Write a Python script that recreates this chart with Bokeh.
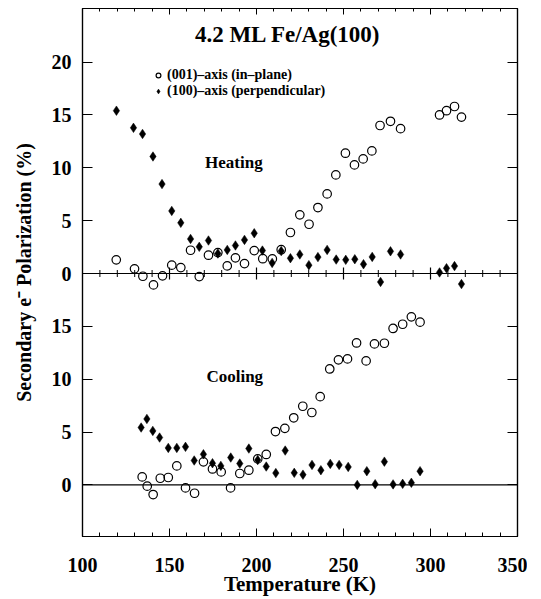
from bokeh.plotting import figure
from bokeh.models import Range1d, LinearAxis, FixedTicker, Span, Label, Legend, LegendItem
from bokeh.embed import file_html
from bokeh.resources import INLINE
import math

FONT = "Liberation Serif"

# ---------------- data ----------------
heat_inplane_T = [119.4, 129.9, 134.7, 140.8, 146.0, 151.3, 156.5, 162.1, 167.1, 172.4, 177.8,
                  183.2, 187.9, 193.1, 198.7, 203.6, 209.1, 214.2, 219.5, 224.9, 230.2, 235.3,
                  240.6, 245.6, 251.1, 256.3, 261.3, 266.3, 271.0, 277.0, 282.8, 305.2, 309.2,
                  313.8, 317.8]
heat_inplane_P = [1.29, 0.44, -0.26, -1.08, -0.22, 0.79, 0.56, 2.2, -0.29, 1.73, 1.98,
                  0.72, 1.48, 0.94, 2.17, 1.4, 1.38, 2.25, 3.88, 5.55, 4.66, 6.24,
                  7.53, 9.33, 11.38, 10.27, 10.84, 11.6, 14.0, 14.4, 13.7, 15.0, 15.4,
                  15.8, 14.8]

heat_perp_T = [119.5, 129.3, 134.5, 140.5, 145.7, 151.3, 156.5, 162.1, 167.1, 172.4, 177.8,
               183.2, 187.9, 193.1, 198.7, 203.4, 209.0, 214.2, 219.5, 224.9, 230.1, 235.3,
               240.6, 245.8, 251.3, 256.5, 261.5, 266.5, 271.3, 277.0, 282.8, 305.2, 309.2,
               313.8, 317.8]
heat_perp_P = [15.4, 13.78, 13.2, 11.07, 8.46, 5.92, 4.79, 3.27, 2.52, 3.12, 1.89,
               2.23, 2.65, 3.18, 3.81, 2.17, 1.0, 2.12, 1.45, 1.8, 0.79, 1.55,
               2.23, 1.32, 1.29, 1.35, 0.88, 1.57, -0.8, 2.1, 1.8, 0.1, 0.5,
               0.7, -1.0]

cool_inplane_T = [134.3, 137.2, 140.6, 144.7, 149.3, 154.2, 159.2, 164.4, 169.5, 174.7, 179.7,
                  185.1, 190.4, 195.6, 200.7, 205.6, 210.9, 216.3, 221.4, 226.6, 231.8, 236.6,
                  242.1, 247.1, 252.3, 257.5, 263.0, 267.8, 273.5, 278.5, 284.0, 289.0, 294.0]
cool_inplane_P = [0.76, -0.12, -0.91, 0.63, 0.7, 1.8, -0.28, -0.79, 2.18, 1.51, 1.23,
                  -0.28, 1.08, 1.39, 2.46, 2.88, 5.05, 5.35, 6.35, 7.44, 6.85, 8.35,
                  10.97, 11.83, 11.92, 13.43, 11.73, 13.34, 13.4, 14.8, 15.2, 15.9, 15.4]

cool_perp_T = [133.7, 137.0, 140.4, 144.3, 149.3, 154.2, 159.2, 164.2, 169.5, 174.7, 179.5,
               185.2, 190.4, 195.6, 200.7, 205.6, 211.1, 216.5, 221.7, 226.7, 231.9, 237.0,
               242.4, 247.5, 252.7, 257.9, 263.4, 268.2, 273.5, 278.5, 284.0, 289.0, 294.0]
cool_perp_P = [5.43, 6.24, 5.11, 4.48, 3.5, 3.5, 3.6, 2.31, 2.9, 2.05, 1.8,
               2.59, 2.02, 3.44, 2.35, 1.74, 1.12, 3.25, 1.14, 0.97, 1.89, 1.39,
               1.99, 1.89, 1.7, 0.0, 1.3, 0.07, 2.2, 0.05, 0.1, 0.2, 1.3]

x_major_ticks = [100, 150, 200, 250, 300, 350]
x_minor_ticks = [t for t in range(110, 350, 10) if t % 50 != 0]
heat_y_ticks = [0, 5, 10, 15, 20]
cool_y_ticks = [0, 5, 10, 15]
HEAT_OFFSET = 20          # heating panel is drawn 20 units above the cooling panel

title_text = "4.2 ML Fe/Ag(100)"
legend_labels = ["(001)\u2013axis (in\u2013plane)", "(100)\u2013axis (perpendicular)"]

# ---------------- figure ----------------
Y0, Y1 = -4.88, 45.07
p = figure(frame_width=435, frame_height=528,
           x_range=Range1d(100, 350), y_range=Range1d(Y0, Y1),
           output_backend="svg", toolbar_location=None,
           min_border_left=82, min_border_right=10, min_border_top=8, min_border_bottom=55,
           background_fill_color="white", border_fill_color="white")
p.extra_y_ranges = {"heat": Range1d(Y0 - HEAT_OFFSET, Y1 - HEAT_OFFSET)}
p.xgrid.visible = False
p.ygrid.visible = False
p.outline_line_color = "black"
p.outline_line_width = 1.2

y_tick_pos = cool_y_ticks + [t + HEAT_OFFSET for t in heat_y_ticks]
y_overrides = {t + HEAT_OFFSET: str(t) for t in heat_y_ticks}
y_overrides.update({t: str(t) for t in cool_y_ticks})

def style_axis(ax, labels=True):
    ax.axis_line_color = "black"
    ax.axis_line_width = 1.2
    ax.major_tick_line_color = "black"
    ax.minor_tick_line_color = "black"
    ax.major_tick_out = 0
    ax.minor_tick_out = 0
    ax.major_label_text_font = FONT
    ax.major_label_text_font_style = "bold"
    ax.major_label_text_font_size = "20px" if labels else "0px"
    ax.major_label_text_color = "black"
    ax.axis_label_text_font = FONT
    ax.axis_label_text_font_style = "bold"
    ax.axis_label_text_color = "black"

# bottom
xb = p.xaxis[0]
xb.ticker = FixedTicker(ticks=x_major_ticks, minor_ticks=x_minor_ticks)
style_axis(xb)
xb.major_tick_in = 8
xb.minor_tick_in = 4
xb.major_label_standoff = 21
xb.axis_label = "Temperature (K)"
xb.axis_label_text_font_size = "21px"
xb.axis_label_standoff = -3

# left
yl = p.yaxis[0]
yl.ticker = FixedTicker(ticks=y_tick_pos, minor_ticks=[])
yl.major_label_overrides = y_overrides
style_axis(yl)
yl.major_tick_in = 10
yl.minor_tick_in = 0
yl.major_label_standoff = 11
yl.axis_label = "Secondary e\u207b Polarization (%)"
yl.axis_label_text_font_size = "20px"
yl.axis_label_standoff = 14

# top
xt = LinearAxis(ticker=FixedTicker(ticks=x_major_ticks, minor_ticks=x_minor_ticks))
style_axis(xt, labels=False)
xt.major_tick_in = 6
xt.minor_tick_in = 3
p.add_layout(xt, "above")

# right
yr = LinearAxis(ticker=FixedTicker(ticks=y_tick_pos, minor_ticks=[]))
style_axis(yr, labels=False)
yr.major_tick_in = 10
yr.minor_tick_in = 0
p.add_layout(yr, "right")

# zero lines
p.add_layout(Span(location=0, dimension="width", line_color="black", line_width=1.2))
p.add_layout(Span(location=0, dimension="width", line_color="black", line_width=1.2,
                  y_range_name="heat"))
# ticks on the heating zero line
p.scatter(x=x_minor_ticks, y=[0] * len(x_minor_ticks), y_range_name="heat",
          marker="dash", angle=math.pi / 2, size=7, line_color="black", line_width=1)
p.scatter(x=x_major_ticks[1:-1], y=[0] * (len(x_major_ticks) - 2), y_range_name="heat",
          marker="dash", angle=math.pi / 2, size=12, line_color="black", line_width=1.2)

# data
CIRC = dict(marker="circle", size=8.5, fill_color=None, line_color="black", line_width=1.2)
DIAM = dict(marker="diamond", size=9.5, fill_color="black", line_color="black", line_width=0.5)

r_hc = p.scatter(heat_inplane_T, heat_inplane_P, y_range_name="heat", **CIRC)
r_hd = p.scatter(heat_perp_T, heat_perp_P, y_range_name="heat", **DIAM)
p.scatter(cool_inplane_T, cool_inplane_P, **CIRC)
p.scatter(cool_perp_T, cool_perp_P, **DIAM)

# texts
p.add_layout(Label(x=218, y=22.6, y_range_name="heat", text=title_text,
                   text_font=FONT, text_font_style="bold", text_font_size="23px",
                   text_align="center", text_baseline="middle", text_color="black"))
p.add_layout(Label(x=187, y=10.5, y_range_name="heat", text="Heating",
                   text_font=FONT, text_font_style="bold", text_font_size="17px",
                   text_align="center", text_baseline="middle", text_color="black"))
p.add_layout(Label(x=187.5, y=10.3, text="Cooling",
                   text_font=FONT, text_font_style="bold", text_font_size="17px",
                   text_align="center", text_baseline="middle", text_color="black"))

legend = Legend(items=[LegendItem(label=legend_labels[0], renderers=[r_hc]),
                       LegendItem(label=legend_labels[1], renderers=[r_hd])],
                location=(70, 437), orientation="vertical",
                glyph_width=12, glyph_height=16, label_height=16, label_width=10,
                label_standoff=3, spacing=0, padding=0, margin=0,
                border_line_color=None, background_fill_alpha=0,
                label_text_font=FONT, label_text_font_style="bold",
                label_text_font_size="14px", label_text_color="black")
p.add_layout(legend)

open("out.html", "w").write(file_html(p, INLINE))
